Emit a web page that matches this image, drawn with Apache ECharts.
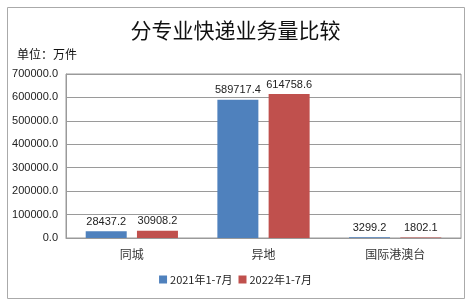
<!DOCTYPE html>
<html><head><meta charset="utf-8">
<script src="https://cdn.jsdelivr.net/npm/echarts@6/dist/echarts.min.js"></script>
<style>html,body{margin:0;padding:0;background:#fff;}#c{width:471px;height:308px;}</style>
</head><body><div id="c"></div>
<script>
const categories = ['同城', '异地', '国际港澳台'];
const seriesNames = ['2021年1-7月', '2022年1-7月'];
const values2021 = [28437.2, 589717.4, 3299.2];
const values2022 = [30908.2, 614758.6, 1802.1];
const yTicks = { min: 0, max: 700000, interval: 100000 };

const chart = echarts.init(document.getElementById('c'), null, {renderer: 'canvas'});
const labelFont = {fontFamily: 'Liberation Sans, DejaVu Sans, sans-serif', fontSize: 11, color: '#222'};
chart.setOption({
  animation: false,
  backgroundColor: '#fff',
  title: {
    text: '分专业快递业务量比较', left: 'center', top: 15,
    textStyle: {fontFamily: 'Noto Sans CJK SC', fontSize: 21, fontWeight: 'normal', color: '#111'}
  },
  graphic: [
    {type: 'rect', shape: {x: 7.5, y: 7.5, width: 457, height: 291}, style: {fill: 'none', stroke: '#aaa', lineWidth: 1}, z: -1},
    {type: 'text', left: 17, top: 48, style: {text: '单位：万件', font: '12px "Noto Sans CJK SC"', fill: '#111'}}
  ],
  legend: {
    bottom: 18, left: 'center', itemWidth: 8, itemHeight: 8, itemGap: 6,
    icon: 'rect',
    textStyle: {fontFamily: 'Noto Sans CJK SC', fontSize: 11, color: '#222', padding: [0,0,0,-2]},
    data: seriesNames
  },
  grid: {left: 66, right: 10, top: 74, bottom: 70, show: true, borderColor: '#9a9a9a', borderWidth: 1},
  xAxis: {
    type: 'category', data: categories,
    axisLine: {lineStyle: {color: '#9a9a9a'}},
    axisTick: {show: false},
    axisLabel: {fontFamily: 'Noto Sans CJK SC', fontSize: 12, color: '#333', margin: 10}
  },
  yAxis: {
    type: 'value', min: yTicks.min, max: yTicks.max, interval: yTicks.interval,
    axisLine: {show: true, lineStyle: {color: '#9a9a9a'}},
    axisTick: {show: false},
    splitLine: {lineStyle: {color: '#9a9a9a'}},
    axisLabel: Object.assign({formatter: v => v.toFixed(1), margin: 8}, labelFont)
  },
  series: [
    {name: seriesNames[0], type: 'bar', data: values2021, barWidth: 41, barGap: '25%',
     itemStyle: {color: '#4F81BD'}, label: Object.assign({show: true, position: 'top', distance: 4}, labelFont)},
    {name: seriesNames[1], type: 'bar', data: values2022, barWidth: 41,
     itemStyle: {color: '#C0504D'}, label: Object.assign({show: true, position: 'top', distance: 4}, labelFont)}
  ]
});
</script></body></html>
